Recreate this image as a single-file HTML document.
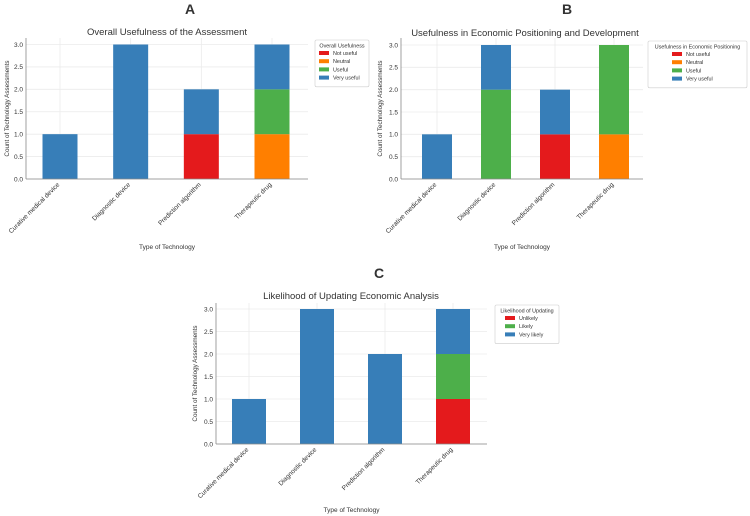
<!DOCTYPE html>
<html><head><meta charset="utf-8"><style>
html,body{margin:0;padding:0;background:#fff;}
svg{display:block;font-family:"Liberation Sans","DejaVu Sans",sans-serif;}
</style></head><body>
<svg id="fig" width="750" height="516" viewBox="0 0 750 516"></svg>
<script>
const categories = ["Curative medical device","Diagnostic device","Prediction algorithm","Therapeutic drug"];
const yTicks = [0,0.5,1.0,1.5,2.0,2.5,3.0];
const yTickLabels = ["0.0","0.5","1.0","1.5","2.0","2.5","3.0"];
// Panel A
const aNames = ["Not useful","Neutral","Useful","Very useful"];
const aNotUseful = [0,0,1,0];
const aNeutral = [0,0,0,1];
const aUseful = [0,0,0,1];
const aVeryUseful = [1,3,1,1];
// Panel B
const bNames = ["Not useful","Neutral","Useful","Very useful"];
const bNotUseful = [0,0,1,0];
const bNeutral = [0,0,0,1];
const bUseful = [0,2,0,2];
const bVeryUseful = [1,1,1,0];
// Panel C
const cNames = ["Unlikely","Likely","Very likely"];
const cUnlikely = [0,0,0,1];
const cLikely = [0,0,0,1];
const cVeryLikely = [1,3,2,1];

const NS = "http://www.w3.org/2000/svg";
const svg = document.getElementById('fig');
function mk(tag, attrs, parent, text){
  const e = document.createElementNS(NS, tag);
  for (const k in attrs) e.setAttribute(k, attrs[k]);
  if (text !== undefined) e.textContent = text;
  (parent || svg).appendChild(e);
  return e;
}
const RED="#e41a1c", ORANGE="#ff7f00", GREEN="#4daf4a", BLUE="#377eb8";

function panel(p){
  const g = mk('g', {});
  
  
  const yS = v => p.y0 - (p.y0 - p.y3) * v / 3;
  const xS = i => p.centers[0] + i * (p.centers[3] - p.centers[0]) / 3;
  const L = mk('text', {x:p.letterX, y:p.letterY, 'font-size':14, 'font-weight':'bold', fill:'#333', 'text-anchor':'middle'}, g, p.letter);
  
  
  const T = mk('text', {x:p.titleX, y:p.titleY, 'font-size':9.5, fill:'#333', 'text-anchor':'middle'}, g, p.title);
  
  
  yTicks.forEach((v, i) => {
    const gl = mk('line', {x1:p.left, x2:p.right, y1:yS(v), y2:yS(v), stroke:'#ebebeb', 'stroke-width':0.8}, g);
    
    
    const tl = mk('text', {x:p.left - 3, y:yS(v) + 2.3, 'font-size':6.5, fill:'#333', 'text-anchor':'end'}, g, yTickLabels[i]);
    
    
  });
  categories.forEach((c, i) => {
    const gl = mk('line', {x1:xS(i), x2:xS(i), y1:p.top, y2:p.y0, stroke:'#ebebeb', 'stroke-width':0.8}, g);
    
    
  });
  categories.forEach((c, i) => {
    let base = 0;
    p.series.forEach((s, k) => {
      const v = s[i];
      if (v > 0) {
        const r = mk('rect', {x:xS(i) - p.bw/2, y:yS(base + v), width:p.bw, height:yS(base) - yS(base + v), fill:p.colors[k]}, g);
        
        
      }
      base += v;
    });
    const tx = xS(i), ty = p.y0 + 6;
    const tl = mk('text', {x:tx, y:ty, 'font-size':6.5, fill:'#333', 'text-anchor':'end', transform:'rotate(-45 ' + tx + ' ' + ty + ')'}, g, c);
    
    
  });
  mk('line', {x1:p.left, x2:p.left, y1:p.top, y2:p.y0, stroke:'#888', 'stroke-width':0.8}, g);
  mk('line', {x1:p.left, x2:p.right, y1:p.y0, y2:p.y0, stroke:'#888', 'stroke-width':0.8}, g);
  const xt = mk('text', {x:(p.left + p.right)/2, y:p.xLabelY, 'font-size':6.5, fill:'#333', 'text-anchor':'middle'}, g, 'Type of Technology');
  
  
  const yc = (p.top + p.y0)/2;
  const yt = mk('text', {x:p.yLabelX, y:yc, 'font-size':6.3, fill:'#333', 'text-anchor':'middle', transform:'rotate(-90 ' + p.yLabelX + ' ' + yc + ')'}, g, 'Count of Technology Assessments');
  
  
  const lg = mk('g', {}, g);
  
  
  const lh = 14 + p.names.length * 8.2;
  mk('rect', {x:p.legX, y:p.legY, width:p.legW, height:lh, fill:'#fff', stroke:'#ccc', 'stroke-width':0.6, rx:1.5}, lg);
  mk('text', {x:p.legX + p.legW/2, y:p.legY + 7.5, 'font-size':5.4, fill:'#333', 'text-anchor':'middle'}, lg, p.legTitle);
  p.names.forEach((n, k) => {
    const yy = p.legY + 11 + k * 8.2;
    const ent = mk('g', {}, lg);
    
    
    mk('rect', {x:p.legSwX, y:yy, width:10, height:4, fill:p.colors[k]}, ent);
    mk('text', {x:p.legSwX + 14, y:yy + 4, 'font-size':5.4, fill:'#333'}, ent, n);
  });
}

panel({id:'a', letter:'A', letterX:190, letterY:14, title:'Overall Usefulness of the Assessment', titleX:167, titleY:35,
  left:26, right:308, top:38, y0:179, y3:44.5, centers:[60,131,202,272], bw:35,
  xLabelY:249, yLabelX:9,
  series:[aNotUseful,aNeutral,aUseful,aVeryUseful], names:aNames, colors:[RED,ORANGE,GREEN,BLUE],
  legX:315, legY:40, legW:54, legSwX:319, legTitle:'Overall Usefulness'});
panel({id:'b', letter:'B', letterX:567, letterY:14, title:'Usefulness in Economic Positioning and Development', titleX:525, titleY:36,
  left:401, right:643, top:38, y0:179, y3:45, centers:[437,496,554,614], bw:30,
  xLabelY:249, yLabelX:382,
  series:[bNotUseful,bNeutral,bUseful,bVeryUseful], names:bNames, colors:[RED,ORANGE,GREEN,BLUE],
  legX:648, legY:41, legW:99, legSwX:672, legTitle:'Usefulness in Economic Positioning'});
panel({id:'c', letter:'C', letterX:379, letterY:278, title:'Likelihood of Updating Economic Analysis', titleX:351, titleY:299,
  left:216, right:487, top:303, y0:444, y3:309, centers:[249,317,385,453], bw:34,
  xLabelY:512, yLabelX:197,
  series:[cUnlikely,cLikely,cVeryLikely], names:cNames, colors:[RED,GREEN,BLUE],
  legX:495, legY:305, legW:64, legSwX:505, legTitle:'Likelihood of Updating'});
</script>
</body></html>
